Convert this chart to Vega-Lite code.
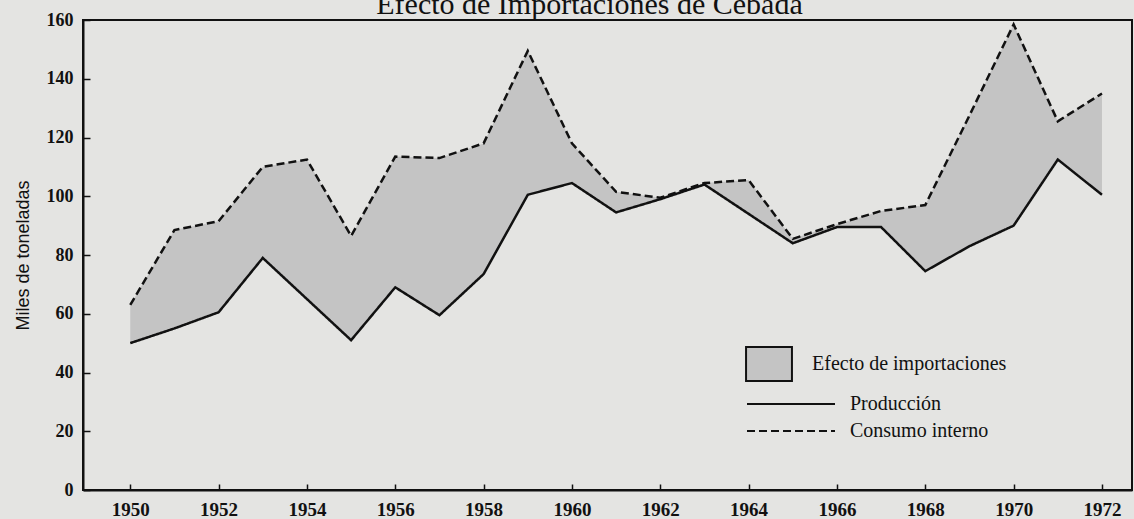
{
  "$schema": "https://vega.github.io/schema/vega-lite/v6.json",
  "width": 1049,
  "height": 470,
  "autosize": {"type": "none"},
  "padding": {"left": 83, "top": 20, "right": 2, "bottom": 29},
  "background": "#e4e4e2",
  "config": {
    "view": {"stroke": "#111111", "strokeWidth": 2},
    "axis": {
      "domainColor": "#111111", "domainWidth": 2, "tickColor": "#111111", "tickWidth": 1.5,
      "grid": false, "labelFont": "Liberation Serif", "labelFontWeight": "bold", "labelColor": "#111111"
    },
    "title": {"font": "Liberation Serif", "fontWeight": "normal", "color": "#111111"}
  },
  "title": {
    "text": "Efecto de Importaciones de Cebada",
    "fontSize": 30,
    "anchor": "middle",
    "frame": "group",
    "baseline": "alphabetic",
    "offset": -33,
    "dx": -18
  },
  "data": {
    "values": [
      {"year": 1950, "prod": 50, "cons": 63},
      {"year": 1951, "prod": 55, "cons": 88.5},
      {"year": 1952, "prod": 60.5, "cons": 91.5},
      {"year": 1953, "prod": 79, "cons": 110},
      {"year": 1954, "prod": 65, "cons": 112.5},
      {"year": 1955, "prod": 51, "cons": 86.5},
      {"year": 1956, "prod": 69, "cons": 113.5},
      {"year": 1957, "prod": 59.5, "cons": 113},
      {"year": 1958, "prod": 73.5, "cons": 118},
      {"year": 1959, "prod": 100.5, "cons": 149.5},
      {"year": 1960, "prod": 104.5, "cons": 118},
      {"year": 1961, "prod": 94.5, "cons": 101.5},
      {"year": 1962, "prod": 99, "cons": 99.5},
      {"year": 1963, "prod": 104, "cons": 104.5},
      {"year": 1964, "prod": 94, "cons": 105.5},
      {"year": 1965, "prod": 84, "cons": 85.5},
      {"year": 1966, "prod": 89.5, "cons": 90.5},
      {"year": 1967, "prod": 89.5, "cons": 95},
      {"year": 1968, "prod": 74.5, "cons": 97},
      {"year": 1969, "prod": 83, "cons": 127.5},
      {"year": 1970, "prod": 90, "cons": 158.5},
      {"year": 1971, "prod": 112.5, "cons": 125.5},
      {"year": 1972, "prod": 100.5, "cons": 135}
    ]
  },
  "encoding": {
    "x": {
      "field": "year", "type": "quantitative",
      "scale": {"domain": [1948.93, 1972.68], "nice": false, "zero": false},
      "axis": {
        "title": null, "values": [1950,1952,1954,1956,1958,1960,1962,1964,1966,1968,1970,1972],
        "format": "d", "tickSize": -6, "labelPadding": 16, "labelFontSize": 19
      }
    }
  },
  "layer": [
    {
      "mark": {"type": "area", "opacity": 1},
      "encoding": {
        "y": {
          "field": "cons", "type": "quantitative",
          "scale": {"domain": [0, 160], "nice": false},
          "axis": {
            "title": "Miles de toneladas", "titleFont": "Liberation Sans", "titleFontSize": 18,
            "titleFontWeight": "normal", "titleColor": "#111111", "titlePadding": 14,
            "values": [0,20,40,60,80,100,120,140,160], "tickSize": -7, "labelPadding": 17, "labelFontSize": 18
          }
        },
        "y2": {"field": "prod"},
        "fill": {
          "datum": "Efecto de importaciones", "type": "nominal",
          "scale": {"range": ["#c4c4c4"]},
          "legend": {
            "title": null, "orient": "none", "legendX": 668, "legendY": 326, "padding": 0,
            "symbolType": "M-1.35,-1H1.35V1H-1.35Z", "symbolSize": 1156,
            "symbolStrokeColor": "#111111", "symbolStrokeWidth": 2, "symbolFillColor": "#c4c4c4",
            "symbolOpacity": 1, "labelOffset": 25, "labelLimit": 400,
            "labelFont": "Liberation Serif", "labelFontSize": 20, "labelColor": "#111111", "labelBaseline": "middle"
          }
        }
      }
    },
    {
      "mark": {"type": "line", "color": "#111111", "strokeWidth": 2.5},
      "encoding": {
        "y": {"field": "prod", "type": "quantitative"},
        "strokeDash": {
          "datum": "Producción", "type": "nominal",
          "scale": {"domain": ["Producción", "Consumo interno"], "range": [[1, 0], [8, 4]]},
          "legend": {
            "title": null, "orient": "none", "legendX": 696, "legendY": 372, "padding": 0,
            "symbolType": "M-4,0H4", "symbolSize": 484, "symbolStrokeColor": "#111111",
            "symbolStrokeWidth": 2, "rowPadding": 5, "labelOffset": 47, "labelLimit": 400,
            "labelFont": "Liberation Serif", "labelFontSize": 20, "labelColor": "#111111", "labelBaseline": "middle"
          }
        }
      }
    },
    {
      "mark": {"type": "line", "color": "#111111", "strokeWidth": 2.5},
      "encoding": {
        "y": {"field": "cons", "type": "quantitative"},
        "strokeDash": {"datum": "Consumo interno", "type": "nominal"}
      }
    }
  ]
}
